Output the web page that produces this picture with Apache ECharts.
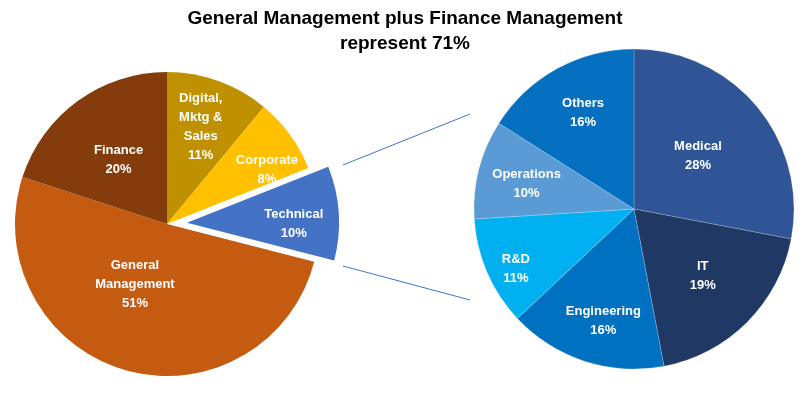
<!DOCTYPE html>
<html><head><meta charset="utf-8">
<script src="https://cdn.jsdelivr.net/npm/echarts@6/dist/echarts.min.js"></script>
<style>html,body{margin:0;padding:0;background:#fff}#c{width:810px;height:395px}</style>
</head><body><div id="c"></div>
<script>
const titleText = "General Management plus Finance Management\nrepresent 71%";
const leftNames = ["Digital,\nMktg &\nSales", "Corporate", "Technical", "General\nManagement", "Finance"];
const leftValues = [11, 8, 10, 51, 20];
const leftColors = ["#BF9000", "#FFC000", "#4472C4", "#C55A11", "#843C0C"];
const rightNames = ["Medical", "IT", "Engineering", "R&D", "Operations", "Others"];
const rightValues = [28, 19, 16, 11, 10, 16];
const rightColors = ["#2F5597", "#203864", "#0070C0", "#00B0F0", "#5B9BD5", "#0570BF"];
// label nudges (px) relative to ECharts' default inside position
const leftLabelShift = [[7, -23], [36, -8], [28, 6], [-10, -15], [-2, 0]];
const rightLabelShift = [[0, 0], [10, 8], [-5, 33], [-42, 27], [-27, -4], [-11, -23]];

const chart = echarts.init(document.getElementById('c'));
const labelStyle = {show: true, position: 'inside', color: '#fff', fontWeight: 'bold',
  fontFamily: 'Liberation Sans, Arial, sans-serif', fontSize: 13, lineHeight: 19,
  formatter: p => p.name + '\n' + p.value + '%'};
const lineStyle = {stroke: '#4472C4', lineWidth: 1};
const shiftFor = arr => p => ({hideOverlap: false, moveOverlap: null,
  dx: arr[p.dataIndex][0], dy: arr[p.dataIndex][1]});
chart.setOption({
  animation: false,
  title: {text: titleText, left: 'center', top: 1,
    textStyle: {fontFamily: 'Liberation Sans, Arial, sans-serif', fontWeight: 'bold', fontSize: 19, lineHeight: 25, color: '#000'}},
  graphic: [
    {type: 'line', shape: {x1: 343, y1: 165, x2: 470, y2: 114}, style: lineStyle, z: 0},
    {type: 'line', shape: {x1: 343, y1: 266, x2: 470, y2: 300}, style: lineStyle, z: 0}
  ],
  series: [
    {type: 'pie', center: [167, 224], radius: 152, startAngle: 90, clockwise: true,
      selectedMode: 'single', selectedOffset: 20, avoidLabelOverlap: false,
      label: labelStyle, labelLine: {show: false}, labelLayout: shiftFor(leftLabelShift),
      emphasis: {disabled: true}, select: {itemStyle: {}},
      data: leftNames.map((n, i) => ({name: n, value: leftValues[i], selected: i === 2,
        itemStyle: {color: leftColors[i]}}))},
    {type: 'pie', center: [634, 209], radius: 160, startAngle: 90, clockwise: true,
      avoidLabelOverlap: false, label: labelStyle, labelLine: {show: false},
      labelLayout: shiftFor(rightLabelShift),
      emphasis: {disabled: true},
      itemStyle: {borderColor: 'rgba(255,255,255,0.4)', borderWidth: 0.5},
      data: rightNames.map((n, i) => ({name: n, value: rightValues[i],
        itemStyle: {color: rightColors[i]}}))}
  ]
});
</script></body></html>
